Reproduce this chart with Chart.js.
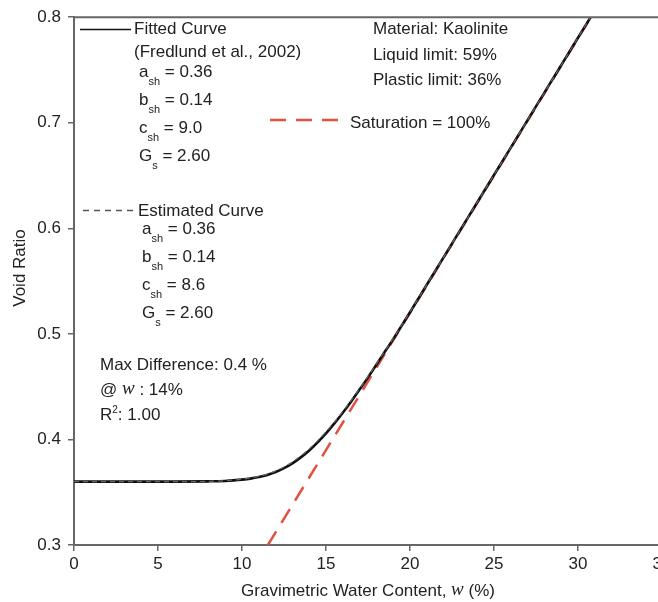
<!DOCTYPE html>
<html><head><meta charset="utf-8">
<style>html,body{margin:0;padding:0;background:#fff;overflow:hidden;width:658px;height:602px}canvas{display:block}</style>
<script src="https://cdn.jsdelivr.net/npm/chart.js@4/dist/chart.umd.min.js"></script>
</head><body>
<canvas id="c" width="676" height="602"></canvas>
<script>
// ---- data ----
const waterContent = [0, 2, 4, 6, 8, 9, 9.5, 10, 10.5, 11, 11.5, 12, 12.5, 13, 13.5, 14, 14.5, 15, 15.5, 16, 16.5, 17, 17.5, 18, 18.5, 19, 20, 21, 22, 23, 24, 25, 26, 27, 28, 29, 30, 31, 32];
const fittedVoidRatio = [0.360, 0.360, 0.360, 0.360, 0.3603, 0.3607, 0.3612, 0.3619, 0.3629, 0.3644, 0.3664, 0.3692, 0.3728, 0.3774, 0.3830, 0.3896, 0.3973, 0.4058, 0.4152, 0.4253, 0.4360, 0.4472, 0.4588, 0.4708, 0.4830, 0.4950, 0.5205, 0.5465, 0.5725, 0.5985, 0.6245, 0.6505, 0.6765, 0.7025, 0.7285, 0.7545, 0.7805, 0.8065, 0.8325];
const estimatedVoidRatio = [0.360, 0.360, 0.360, 0.360, 0.3603, 0.3609, 0.3615, 0.3623, 0.3634, 0.3650, 0.3672, 0.3701, 0.3739, 0.3787, 0.3844, 0.3910, 0.3987, 0.4072, 0.4165, 0.4265, 0.4371, 0.4482, 0.4597, 0.4716, 0.4837, 0.4956, 0.5209, 0.5468, 0.5727, 0.5986, 0.6246, 0.6506, 0.6766, 0.7026, 0.7286, 0.7546, 0.7806, 0.8066, 0.8326];
const saturationWater = [11.54, 30.77];
const saturationVoidRatio = [0.30, 0.80];
const xTickValues = [0, 5, 10, 15, 20, 25, 30, 35];
const yTickValues = [0.3, 0.4, 0.5, 0.6, 0.7, 0.8];

const FONT = "'Liberation Sans', Arial, Helvetica, sans-serif";
const SERIF = "'Liberation Serif', 'Times New Roman', serif";
const TEXT = '#222';
const AXIS = '#666';
const RED = '#e2503f';

const pts = (xs, ys) => xs.map((x, i) => ({x, y: ys[i]}));

function drawSub(ctx, x, y, main, sub, rest) {
  ctx.font = '17px ' + FONT;
  ctx.fillText(main, x, y);
  let w = ctx.measureText(main).width;
  ctx.font = '11px ' + FONT;
  ctx.fillText(sub, x + w, y + 10);
  w += ctx.measureText(sub).width;
  ctx.font = '17px ' + FONT;
  ctx.fillText(rest, x + w, y);
}

const annotations = {
  id: 'annotations',
  afterDraw(chart) {
    const ctx = chart.ctx, a = chart.chartArea;
    ctx.save();
    // top frame line
    ctx.strokeStyle = AXIS; ctx.lineWidth = 2;
    ctx.beginPath(); ctx.moveTo(a.left - 1, a.top); ctx.lineTo(a.right, a.top); ctx.stroke();

    ctx.fillStyle = TEXT;
    ctx.textBaseline = 'middle';
    ctx.textAlign = 'left';

    // Fitted curve legend
    ctx.strokeStyle = '#111'; ctx.lineWidth = 1.5; ctx.setLineDash([]);
    ctx.beginPath(); ctx.moveTo(80, 29.5); ctx.lineTo(131, 29.5); ctx.stroke();
    ctx.font = '17px ' + FONT;
    ctx.fillText('Fitted Curve', 134, 29);
    ctx.fillText('(Fredlund et al., 2002)', 134, 52);
    drawSub(ctx, 139, 72, 'a', 'sh', ' = 0.36');
    drawSub(ctx, 139, 100, 'b', 'sh', ' = 0.14');
    drawSub(ctx, 139, 128, 'c', 'sh', ' = 9.0');
    drawSub(ctx, 139, 156, 'G', 's', ' = 2.60');

    // Estimated curve legend
    ctx.strokeStyle = '#555'; ctx.lineWidth = 1.5; ctx.setLineDash([6, 5]);
    ctx.beginPath(); ctx.moveTo(83, 210.5); ctx.lineTo(135, 210.5); ctx.stroke();
    ctx.setLineDash([]);
    ctx.font = '17px ' + FONT;
    ctx.fillText('Estimated Curve', 138, 211);
    drawSub(ctx, 142, 229, 'a', 'sh', ' = 0.36');
    drawSub(ctx, 142, 257, 'b', 'sh', ' = 0.14');
    drawSub(ctx, 142, 285, 'c', 'sh', ' = 8.6');
    drawSub(ctx, 142, 313, 'G', 's', ' = 2.60');

    // statistics
    ctx.font = '17px ' + FONT;
    ctx.fillText('Max Difference: 0.4 %', 100, 365);
    let x = 100;
    ctx.fillText('@ ', x, 390); x += ctx.measureText('@ ').width;
    ctx.font = 'italic 19px ' + SERIF;
    ctx.fillText('w', x, 389); x += ctx.measureText('w').width;
    ctx.font = '17px ' + FONT;
    ctx.fillText(' : 14%', x, 390);
    x = 100;
    ctx.fillText('R', x, 415); x += ctx.measureText('R').width;
    ctx.font = '10px ' + FONT;
    ctx.fillText('2', x, 410); x += ctx.measureText('2').width;
    ctx.font = '17px ' + FONT;
    ctx.fillText(': 1.00', x, 415);

    // material
    ctx.fillText('Material: Kaolinite', 373, 29);
    ctx.fillText('Liquid limit: 59%', 373, 55);
    ctx.fillText('Plastic limit: 36%', 373, 80);

    // saturation legend
    ctx.strokeStyle = RED; ctx.lineWidth = 2.5; ctx.setLineDash([16, 10]);
    ctx.beginPath(); ctx.moveTo(270, 120); ctx.lineTo(344, 120); ctx.stroke();
    ctx.setLineDash([]);
    ctx.fillText('Saturation = 100%', 350, 123);

    // axis titles
    ctx.font = '17px ' + FONT;
    const p1 = 'Gravimetric Water Content, ', p3 = ' (%)';
    const w1 = ctx.measureText(p1).width, w3 = ctx.measureText(p3).width;
    ctx.font = 'italic 19px ' + SERIF;
    const w2 = ctx.measureText('w').width;
    let tx = (a.left + a.right) / 2 - (w1 + w2 + w3) / 2;
    ctx.font = '17px ' + FONT;
    ctx.fillText(p1, tx, 591); tx += w1;
    ctx.font = 'italic 19px ' + SERIF;
    ctx.fillText('w', tx, 590); tx += w2;
    ctx.font = '17px ' + FONT;
    ctx.fillText(p3, tx, 591);

    ctx.translate(20, 268);
    ctx.rotate(-Math.PI / 2);
    ctx.textAlign = 'center';
    ctx.fillText('Void Ratio', 0, 0);
    ctx.restore();
  }
};

new Chart(document.getElementById('c'), {
  type: 'scatter',
  data: {
    datasets: [
      {
        label: 'Saturation = 100%',
        data: pts(saturationWater, saturationVoidRatio),
        showLine: true, borderColor: RED, borderWidth: 2.5, borderDash: [16, 10],
        pointRadius: 0, order: 3
      },
      {
        label: 'Fitted Curve',
        data: pts(waterContent, fittedVoidRatio),
        showLine: true, borderColor: '#111', borderWidth: 2.6,
        cubicInterpolationMode: 'monotone', pointRadius: 0, order: 2
      },
      {
        label: 'Estimated Curve',
        data: pts(waterContent, estimatedVoidRatio),
        showLine: true, borderColor: '#666', borderWidth: 1.2, borderDash: [5, 4],
        cubicInterpolationMode: 'monotone', pointRadius: 0, order: 1
      }
    ]
  },
  options: {
    responsive: false,
    animation: false,
    devicePixelRatio: 1,
    layout: { padding: { left: 0, top: 14.5, right: 14, bottom: 0 } },
    plugins: { legend: { display: false }, tooltip: { enabled: false } },
    scales: {
      x: {
        type: 'linear', min: 0, max: 35,
        afterBuildTicks: s => { s.ticks = xTickValues.map(v => ({value: v})); },
        afterFit: s => { s.height = 57; },
        ticks: { font: { family: FONT, size: 17 }, color: TEXT, padding: 3, maxRotation: 0 },
        grid: { drawOnChartArea: false, drawTicks: true, tickLength: 6, color: AXIS, lineWidth: 1.5 },
        border: { display: true, color: AXIS, width: 2 }
      },
      y: {
        type: 'linear', min: 0.3, max: 0.8,
        afterBuildTicks: s => { s.ticks = yTickValues.map(v => ({value: v})); },
        afterFit: s => { s.width = 74; },
        ticks: { font: { family: FONT, size: 17 }, color: TEXT, padding: 7, callback: v => v.toFixed(1) },
        grid: { drawOnChartArea: false, drawTicks: true, tickLength: 6, color: AXIS, lineWidth: 1.5 },
        border: { display: true, color: AXIS, width: 2 }
      }
    }
  },
  plugins: [annotations]
});
</script>
</body></html>
